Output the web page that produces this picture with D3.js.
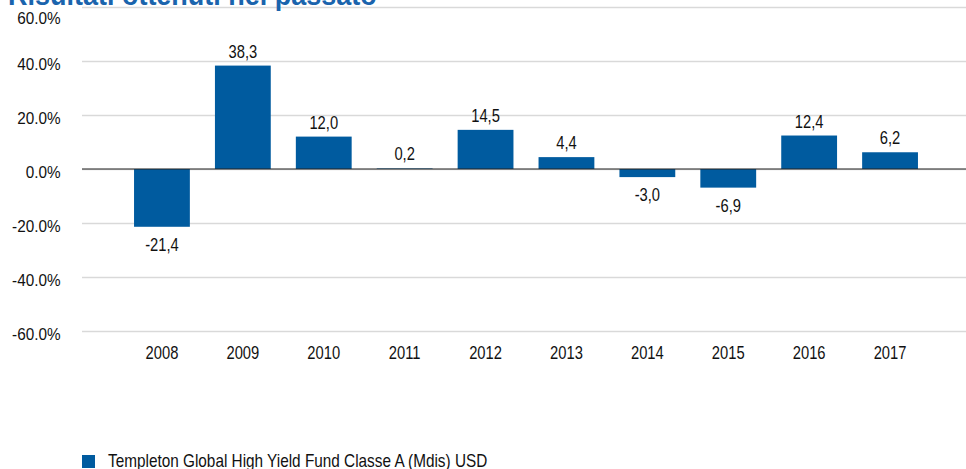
<!DOCTYPE html>
<html>
<head>
<meta charset="utf-8">
<script src="https://cdn.jsdelivr.net/npm/d3@7"></script>
<style>
  body { margin: 0; background: #fff; }
  svg { display: block; font-family: "Liberation Sans", Arial, sans-serif; }
</style>
</head>
<body>
<div id="chart"></div>
<script>
// Chart data
const years = ["2008", "2009", "2010", "2011", "2012", "2013", "2014", "2015", "2016", "2017"];
const returns = [-21.4, 38.3, 12.0, 0.2, 14.5, 4.4, -3.0, -6.9, 12.4, 6.2];
const yTicks = [60, 40, 20, 0, -20, -40, -60];
const seriesName = "Templeton Global High Yield Fund Classe A (Mdis) USD";
const chartTitle = "Risultati ottenuti nel passato";

const W = 966, H = 469;
const barColor = "#005b9f";
const sx = 0.82; // text in the source is horizontally squeezed

const svg = d3.select("#chart").append("svg")
    .attr("width", W)
    .attr("height", H);

// Scales
const xScale = d3.scaleBand()
    .domain(years)
    .range([121.5, 930.5])
    .paddingInner(0.31)
    .paddingOuter(0.155);

const yScale = d3.scaleLinear()
    .domain([-60, 60])
    .range([331, 7]);

const left = 82;

// Y axis with gridlines
const yAxis = svg.append("g")
    .attr("class", "y-axis")
    .attr("transform", `translate(${left},0)`)
    .call(d3.axisLeft(yScale).tickValues(yTicks).tickSize(-(W - left)).tickFormat(d => d.toFixed(1) + "%"));

yAxis.select(".domain").remove();
yAxis.selectAll(".tick line")
    .attr("stroke", "#d9d9d9")
    .attr("stroke-width", 1.3);
yAxis.selectAll(".tick text")
    .attr("x", -21.5 / 0.9)
    .attr("dy", null)
    .attr("y", d => d === 60 ? 17 : 8)
    .attr("transform", "scale(0.9,1)")
    .attr("fill", "#111")
    .style("font-size", "17px");

// Bars
svg.selectAll(".bar")
    .data(returns)
    .enter().append("rect")
    .attr("class", "bar")
    .attr("x", (d, i) => xScale(years[i]))
    .attr("y", d => yScale(Math.max(0, d)))
    .attr("width", xScale.bandwidth())
    .attr("height", d => Math.abs(yScale(d) - yScale(0)))
    .attr("fill", barColor);

// Zero line
svg.append("line")
    .attr("x1", left)
    .attr("x2", W)
    .attr("y1", yScale(0))
    .attr("y2", yScale(0))
    .attr("stroke", "#222")
    .attr("stroke-width", 1.2);

// Value labels (Italian decimal comma)
svg.selectAll(".bar-number")
    .data(returns)
    .enter().append("text")
    .attr("class", "bar-number")
    .attr("text-anchor", "middle")
    .attr("transform", (d, i) => {
        const x = xScale(years[i]) + xScale.bandwidth() / 2;
        const y = d >= 0 ? yScale(d) - 8 : yScale(d) + 24;
        return `translate(${x},${y}) scale(${sx},1)`;
    })
    .attr("fill", "#111")
    .style("font-size", "18px")
    .text(d => d.toFixed(1).replace(".", ","));

// X axis labels
const xAxis = svg.append("g")
    .attr("class", "x-axis")
    .attr("transform", "translate(0,359)")
    .call(d3.axisBottom(xScale).tickSize(0));

xAxis.select(".domain").remove();
xAxis.selectAll(".tick text")
    .attr("y", 0)
    .attr("dy", null)
    .attr("transform", `scale(${sx},1)`)
    .attr("fill", "#111")
    .style("font-size", "18px");

// Title (partly cut off at the top, as in the source)
svg.append("text")
    .attr("transform", "translate(8,5) scale(0.9,1)")
    .attr("fill", "#1a64ad")
    .style("font-size", "30px")
    .style("font-weight", "bold")
    .text(chartTitle);

// Legend
svg.append("rect")
    .attr("x", 82)
    .attr("y", 455)
    .attr("width", 13)
    .attr("height", 13)
    .attr("fill", barColor);

svg.append("text")
    .attr("transform", "translate(108,467) scale(0.852,1)")
    .attr("fill", "#111")
    .style("font-size", "18px")
    .text(seriesName);
</script>
</body>
</html>
